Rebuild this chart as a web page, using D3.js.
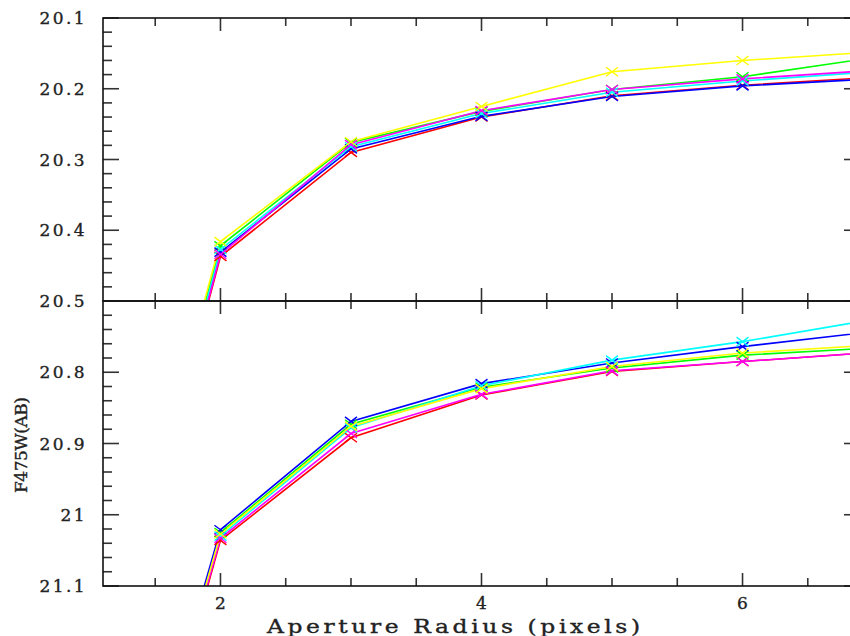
<!DOCTYPE html>
<html>
<head>
<meta charset="utf-8">
<script src="https://cdn.jsdelivr.net/npm/d3@7"></script>
<style>
  html, body { margin: 0; padding: 0; background: #fff; }
  svg { display: block; }
  text { font-family: "DejaVu Serif", "Liberation Serif", serif; fill: #222; stroke: #222; stroke-width: 0.35px; }
</style>
</head>
<body>
<svg id="chart" width="850" height="636"></svg>
<script>
// ---------- data ----------
const radii = [1, 2, 3, 4, 5, 6, 7];
const seriesNames = ["red", "green", "blue", "cyan", "magenta", "yellow"];
const seriesColors = ["#ff0000", "#00ff00", "#0000ff", "#00ffff", "#ff00ff", "#ffff00"];

// top panel magnitudes (per series, at radii 1..7)
const topRed     = [21.13, 20.437, 20.290, 20.240, 20.210, 20.195, 20.184];
const topGreen   = [21.11, 20.422, 20.276, 20.232, 20.201, 20.183, 20.156];
const topBlue    = [21.12, 20.431, 20.285, 20.239, 20.211, 20.196, 20.186];
const topCyan    = [21.12, 20.427, 20.282, 20.235, 20.205, 20.189, 20.176];
const topMagenta = [21.13, 20.434, 20.279, 20.231, 20.201, 20.186, 20.174];
const topYellow  = [21.10, 20.416, 20.275, 20.225, 20.176, 20.160, 20.148];

// bottom panel magnitudes
const botRed     = [21.69, 21.036, 20.892, 20.832, 20.799, 20.785, 20.772];
const botGreen   = [21.67, 21.025, 20.873, 20.821, 20.794, 20.776, 20.766];
const botBlue    = [21.66, 21.021, 20.869, 20.816, 20.787, 20.764, 20.743];
const botCyan    = [21.68, 21.030, 20.878, 20.819, 20.783, 20.757, 20.726];
const botMagenta = [21.68, 21.033, 20.886, 20.831, 20.798, 20.785, 20.772];
const botYellow  = [21.67, 21.027, 20.876, 20.823, 20.792, 20.773, 20.762];

const topSeries = [topRed, topGreen, topBlue, topCyan, topMagenta, topYellow];
const botSeries = [botRed, botGreen, botBlue, botCyan, botMagenta, botYellow];

const xMajorTicks = [2, 4, 6];
const xMinorTicks = [1.5, 2.5, 3, 3.5, 4.5, 5, 5.5, 6.5];
const topYLabels = [20.1, 20.2, 20.3, 20.4, 20.5];
const botYLabels = [20.8, 20.9, 21, 21.1];
const xTitle = "Aperture Radius (pixels)";
const yTitle = "F475W(AB)";

// ---------- layout ----------
const svg = d3.select("#chart");
const L = 103, R = 860;
const x = d3.scaleLinear().domain([1.1, 6.9]).range([L, R]);

const panels = [
  { y: d3.scaleLinear().domain([20.1, 20.5]).range([18, 301]), series: topSeries,
    majors: [20.1, 20.2, 20.3, 20.4, 20.5], labels: topYLabels, id: "top" },
  { y: d3.scaleLinear().domain([20.7, 21.1]).range([301, 586]), series: botSeries,
    majors: [20.7, 20.8, 20.9, 21.0, 21.1], labels: botYLabels, id: "bot" }
];

const tickColor = "#333";
const fmt = v => (Math.abs(v - Math.round(v)) < 1e-9 ? d3.format("d")(v) : d3.format(".1f")(v));

panels.forEach(p => {
  const y = p.y;
  const [yTop, yBot] = [y.range()[0], y.range()[1]];
  const g = svg.append("g");

  svg.append("clipPath").attr("id", "clip-" + p.id)
    .append("rect").attr("x", L).attr("y", yTop).attr("width", R - L).attr("height", yBot - yTop);

  const line = d3.line().x((d, i) => x(radii[i])).y(d => y(d));
  const dg = g.append("g").attr("clip-path", "url(#clip-" + p.id + ")");
  p.series.forEach((vals, si) => {
    dg.append("path").datum(vals)
      .attr("d", line)
      .attr("fill", "none")
      .attr("stroke", seriesColors[si])
      .attr("stroke-width", 1.6);
  });
  p.series.forEach((vals, si) => {
    vals.forEach((v, i) => {
      const cx = x(radii[i]), cy = y(v);
      dg.append("path")
        .attr("d", `M${cx - 6},${cy - 4.5}L${cx + 6},${cy + 4.5}M${cx - 6},${cy + 4.5}L${cx + 6},${cy - 4.5}`)
        .attr("stroke", seriesColors[si]).attr("stroke-width", 1.4).attr("fill", "none");
    });
  });

  const d0 = y.domain()[0];
  const minorY = d3.range(0, 21).map(k => +(d0 + k * 0.02).toFixed(2));
  minorY.forEach(v => {
    const isMajor = p.majors.some(m => Math.abs(m - v) < 1e-6);
    const len = isMajor ? 16 : 9;
    g.append("line").attr("x1", L).attr("x2", L + len).attr("y1", y(v)).attr("y2", y(v))
      .attr("stroke", tickColor).attr("stroke-width", 1.6);
    g.append("line").attr("x1", R).attr("x2", R - len).attr("y1", y(v)).attr("y2", y(v))
      .attr("stroke", tickColor).attr("stroke-width", 1.6);
  });

  xMinorTicks.concat(xMajorTicks).forEach(t => {
    const isMajor = xMajorTicks.includes(t);
    const len = isMajor ? 13 : 8;
    g.append("line").attr("x1", x(t)).attr("x2", x(t)).attr("y1", yTop).attr("y2", yTop + len)
      .attr("stroke", tickColor).attr("stroke-width", 1.6);
    g.append("line").attr("x1", x(t)).attr("x2", x(t)).attr("y1", yBot).attr("y2", yBot - len)
      .attr("stroke", tickColor).attr("stroke-width", 1.6);
  });

  g.append("rect").attr("x", L).attr("y", yTop).attr("width", R - L).attr("height", yBot - yTop)
    .attr("fill", "none").attr("stroke", "#111").attr("stroke-width", 1.6);

  p.labels.forEach(v => {
    g.append("text").attr("x", 87).attr("y", y(v)).attr("dy", "0.36em")
      .attr("text-anchor", "end")
      .attr("font-size", 17).attr("letter-spacing", 2.4)
      .text(fmt(v));
  });
});

xMajorTicks.forEach(t => {
  svg.append("text").attr("x", x(t)).attr("y", 609).attr("text-anchor", "middle")
    .attr("font-size", 17).text(t);
});

svg.append("g").attr("transform", "translate(267,633) scale(1.3,1)")
  .append("text").attr("x", 0).attr("y", 0)
  .attr("font-size", 18).attr("textLength", 287).attr("lengthAdjust", "spacing").text(xTitle);

svg.append("text").attr("transform", "translate(27,493) rotate(-90)")
  .attr("font-size", 17).attr("textLength", 96).attr("lengthAdjust", "spacing").text(yTitle);
</script>
</body>
</html>
